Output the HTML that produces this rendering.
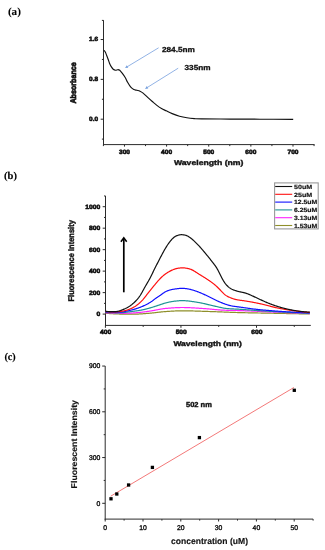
<!DOCTYPE html>
<html><head><meta charset="utf-8"><style>
html,body{margin:0;padding:0;background:#fff;width:325px;height:550px;overflow:hidden}
svg{display:block;will-change:transform;filter:blur(0.3px)}
text{text-rendering:geometricPrecision}
</style></head><body>
<svg width="325" height="550" viewBox="0 0 325 550">
<rect width="325" height="550" fill="#fff"/>
<text x="7.9" y="15.3" font-size="10.8" font-family='"Liberation Serif", serif' fill="#000" stroke="#000" stroke-width="0.08" font-weight="bold" textLength="13" lengthAdjust="spacingAndGlyphs">(a)</text>
<text x="4" y="178.8" font-size="10.3" font-family='"Liberation Serif", serif' fill="#000" stroke="#000" stroke-width="0.13" font-weight="bold" textLength="12.9" lengthAdjust="spacingAndGlyphs">(b)</text>
<text x="4.4" y="359.8" font-size="10.3" font-family='"Liberation Serif", serif' fill="#000" stroke="#000" stroke-width="0.13" font-weight="bold" textLength="11.4" lengthAdjust="spacingAndGlyphs">(c)</text>
<line x1="103.5" y1="20.2" x2="103.5" y2="145.1" stroke="#2a2a2a" stroke-width="1"/>
<line x1="103" y1="144.6" x2="314.55" y2="144.6" stroke="#2a2a2a" stroke-width="1"/>
<line x1="100.7" y1="119.2" x2="103.5" y2="119.2" stroke="#2a2a2a" stroke-width="1"/>
<text x="98.1" y="121.1" font-size="6.2" font-family='"Liberation Sans", sans-serif' fill="#111" stroke="#111" stroke-width="0.56" font-weight="bold" text-anchor="end" textLength="9" lengthAdjust="spacingAndGlyphs">0.0</text>
<line x1="100.7" y1="79.36" x2="103.5" y2="79.36" stroke="#2a2a2a" stroke-width="1"/>
<text x="98.1" y="81.26" font-size="6.2" font-family='"Liberation Sans", sans-serif' fill="#111" stroke="#111" stroke-width="0.56" font-weight="bold" text-anchor="end" textLength="9" lengthAdjust="spacingAndGlyphs">0.8</text>
<line x1="100.7" y1="39.52" x2="103.5" y2="39.52" stroke="#2a2a2a" stroke-width="1"/>
<text x="98.1" y="41.42" font-size="6.2" font-family='"Liberation Sans", sans-serif' fill="#111" stroke="#111" stroke-width="0.56" font-weight="bold" text-anchor="end" textLength="9" lengthAdjust="spacingAndGlyphs">1.6</text>
<line x1="101.9" y1="139.12" x2="103.5" y2="139.12" stroke="#2a2a2a" stroke-width="1"/>
<line x1="101.9" y1="99.28" x2="103.5" y2="99.28" stroke="#2a2a2a" stroke-width="1"/>
<line x1="101.9" y1="59.44" x2="103.5" y2="59.44" stroke="#2a2a2a" stroke-width="1"/>
<line x1="101.9" y1="20.4" x2="103.5" y2="20.4" stroke="#2a2a2a" stroke-width="1"/>
<line x1="124.47" y1="144.6" x2="124.47" y2="146.6" stroke="#2a2a2a" stroke-width="1"/>
<text x="124.47" y="153.5" font-size="6.2" font-family='"Liberation Sans", sans-serif' fill="#111" stroke="#111" stroke-width="0.56" font-weight="bold" text-anchor="middle" textLength="11" lengthAdjust="spacingAndGlyphs">300</text>
<line x1="166.59" y1="144.6" x2="166.59" y2="146.6" stroke="#2a2a2a" stroke-width="1"/>
<text x="166.59" y="153.5" font-size="6.2" font-family='"Liberation Sans", sans-serif' fill="#111" stroke="#111" stroke-width="0.56" font-weight="bold" text-anchor="middle" textLength="11" lengthAdjust="spacingAndGlyphs">400</text>
<line x1="208.73" y1="144.6" x2="208.73" y2="146.6" stroke="#2a2a2a" stroke-width="1"/>
<text x="208.73" y="153.5" font-size="6.2" font-family='"Liberation Sans", sans-serif' fill="#111" stroke="#111" stroke-width="0.56" font-weight="bold" text-anchor="middle" textLength="11" lengthAdjust="spacingAndGlyphs">500</text>
<line x1="250.86" y1="144.6" x2="250.86" y2="146.6" stroke="#2a2a2a" stroke-width="1"/>
<text x="250.86" y="153.5" font-size="6.2" font-family='"Liberation Sans", sans-serif' fill="#111" stroke="#111" stroke-width="0.56" font-weight="bold" text-anchor="middle" textLength="11" lengthAdjust="spacingAndGlyphs">600</text>
<line x1="292.99" y1="144.6" x2="292.99" y2="146.6" stroke="#2a2a2a" stroke-width="1"/>
<text x="292.99" y="153.5" font-size="6.2" font-family='"Liberation Sans", sans-serif' fill="#111" stroke="#111" stroke-width="0.56" font-weight="bold" text-anchor="middle" textLength="11" lengthAdjust="spacingAndGlyphs">700</text>
<line x1="103.4" y1="144.6" x2="103.4" y2="146.1" stroke="#2a2a2a" stroke-width="1"/>
<line x1="145.53" y1="144.6" x2="145.53" y2="146.1" stroke="#2a2a2a" stroke-width="1"/>
<line x1="187.66" y1="144.6" x2="187.66" y2="146.1" stroke="#2a2a2a" stroke-width="1"/>
<line x1="229.79" y1="144.6" x2="229.79" y2="146.1" stroke="#2a2a2a" stroke-width="1"/>
<line x1="271.92" y1="144.6" x2="271.92" y2="146.1" stroke="#2a2a2a" stroke-width="1"/>
<line x1="314.05" y1="144.6" x2="314.05" y2="146.1" stroke="#2a2a2a" stroke-width="1"/>
<text x="208.7" y="164.6" font-size="7" font-family='"Liberation Sans", sans-serif' fill="#111" stroke="#111" stroke-width="0.35" font-weight="bold" text-anchor="middle" textLength="69.6" lengthAdjust="spacingAndGlyphs">Wavelength (nm)</text>
<text x="76.5" y="82.9" font-size="8" font-family='"Liberation Sans", sans-serif' fill="#111" stroke="#111" stroke-width="0.67" font-weight="bold" text-anchor="middle" textLength="41.4" lengthAdjust="spacingAndGlyphs" transform="rotate(-90 76.5 82.9)">Absorbance</text>
<path d="M104,50.3 C104.23,50.62 104.93,51.28 105.4,52.2 C105.87,53.12 106.33,54.58 106.8,55.8 C107.27,57.02 107.75,58.27 108.2,59.5 C108.65,60.73 108.97,61.97 109.5,63.2 C110.03,64.43 110.78,65.9 111.4,66.9 C112.02,67.9 112.52,68.65 113.2,69.2 C113.88,69.75 114.73,70.12 115.5,70.2 C116.27,70.28 117.1,69.7 117.8,69.7 C118.5,69.7 119,69.67 119.7,70.2 C120.4,70.73 121.08,71.68 122,72.9 C122.92,74.12 124.27,75.93 125.2,77.5 C126.13,79.07 126.67,80.68 127.6,82.3 C128.53,83.92 129.77,86 130.8,87.2 C131.83,88.4 132.78,88.98 133.8,89.5 C134.82,90.02 135.87,90.02 136.9,90.3 C137.93,90.58 138.97,90.73 140,91.2 C141.03,91.67 141.82,92.07 143.1,93.1 C144.38,94.13 146.17,96 147.7,97.4 C149.23,98.8 150.77,100.17 152.3,101.5 C153.83,102.83 155.37,104.23 156.9,105.4 C158.43,106.57 159.95,107.6 161.5,108.5 C163.05,109.4 164.42,109.95 166.2,110.8 C167.98,111.65 169.98,112.7 172.2,113.6 C174.42,114.5 177.05,115.5 179.5,116.2 C181.95,116.9 184.43,117.4 186.9,117.8 C189.37,118.2 191.83,118.42 194.3,118.6 C196.77,118.78 195.75,118.82 201.7,118.9 C207.65,118.98 220.28,119.05 230,119.1 C239.72,119.15 249.47,119.17 260,119.2 C270.53,119.23 287.67,119.28 293.2,119.3" fill="none" stroke="#111" stroke-width="1.15" stroke-linejoin="round"/>
<line x1="158.6" y1="47.8" x2="127.14" y2="66.81" stroke="#76a0de" stroke-width="0.8"/>
<polygon points="125,68.1 126.84,65.35 128.29,67.75" fill="#76a0de"/>
<line x1="178.2" y1="68.2" x2="147.12" y2="87.58" stroke="#76a0de" stroke-width="0.8"/>
<polygon points="145,88.9 146.81,86.12 148.29,88.5" fill="#76a0de"/>
<text x="161.9" y="51.5" font-size="7.3" font-family='"Liberation Sans", sans-serif' fill="#111" stroke="#111" stroke-width="0.29" font-weight="bold" textLength="33" lengthAdjust="spacingAndGlyphs">284.5nm</text>
<text x="184.5" y="70.4" font-size="7.3" font-family='"Liberation Sans", sans-serif' fill="#111" stroke="#111" stroke-width="0.29" font-weight="bold" textLength="26" lengthAdjust="spacingAndGlyphs">335nm</text>
<line x1="105.5" y1="195.96" x2="105.5" y2="325.9" stroke="#2a2a2a" stroke-width="1"/>
<line x1="105" y1="325.4" x2="310.8" y2="325.4" stroke="#2a2a2a" stroke-width="1"/>
<line x1="102.7" y1="314.1" x2="105.5" y2="314.1" stroke="#2a2a2a" stroke-width="1"/>
<text x="100.3" y="316.1" font-size="6.2" font-family='"Liberation Sans", sans-serif' fill="#111" stroke="#111" stroke-width="0.56" font-weight="bold" text-anchor="end" textLength="3.75" lengthAdjust="spacingAndGlyphs">0</text>
<line x1="102.7" y1="292.62" x2="105.5" y2="292.62" stroke="#2a2a2a" stroke-width="1"/>
<text x="100.3" y="294.62" font-size="6.2" font-family='"Liberation Sans", sans-serif' fill="#111" stroke="#111" stroke-width="0.56" font-weight="bold" text-anchor="end" textLength="11.25" lengthAdjust="spacingAndGlyphs">200</text>
<line x1="102.7" y1="271.14" x2="105.5" y2="271.14" stroke="#2a2a2a" stroke-width="1"/>
<text x="100.3" y="273.14" font-size="6.2" font-family='"Liberation Sans", sans-serif' fill="#111" stroke="#111" stroke-width="0.56" font-weight="bold" text-anchor="end" textLength="11.25" lengthAdjust="spacingAndGlyphs">400</text>
<line x1="102.7" y1="249.66" x2="105.5" y2="249.66" stroke="#2a2a2a" stroke-width="1"/>
<text x="100.3" y="251.66" font-size="6.2" font-family='"Liberation Sans", sans-serif' fill="#111" stroke="#111" stroke-width="0.56" font-weight="bold" text-anchor="end" textLength="11.25" lengthAdjust="spacingAndGlyphs">600</text>
<line x1="102.7" y1="228.18" x2="105.5" y2="228.18" stroke="#2a2a2a" stroke-width="1"/>
<text x="100.3" y="230.18" font-size="6.2" font-family='"Liberation Sans", sans-serif' fill="#111" stroke="#111" stroke-width="0.56" font-weight="bold" text-anchor="end" textLength="11.25" lengthAdjust="spacingAndGlyphs">800</text>
<line x1="102.7" y1="206.7" x2="105.5" y2="206.7" stroke="#2a2a2a" stroke-width="1"/>
<text x="100.3" y="208.7" font-size="6.2" font-family='"Liberation Sans", sans-serif' fill="#111" stroke="#111" stroke-width="0.56" font-weight="bold" text-anchor="end" textLength="15" lengthAdjust="spacingAndGlyphs">1000</text>
<line x1="104" y1="303.36" x2="105.5" y2="303.36" stroke="#2a2a2a" stroke-width="1"/>
<line x1="104" y1="281.88" x2="105.5" y2="281.88" stroke="#2a2a2a" stroke-width="1"/>
<line x1="104" y1="260.4" x2="105.5" y2="260.4" stroke="#2a2a2a" stroke-width="1"/>
<line x1="104" y1="238.92" x2="105.5" y2="238.92" stroke="#2a2a2a" stroke-width="1"/>
<line x1="104" y1="217.44" x2="105.5" y2="217.44" stroke="#2a2a2a" stroke-width="1"/>
<line x1="104" y1="195.96" x2="105.5" y2="195.96" stroke="#2a2a2a" stroke-width="1"/>
<line x1="105.4" y1="325.4" x2="105.4" y2="327.8" stroke="#2a2a2a" stroke-width="1"/>
<text x="105.7" y="333.9" font-size="6.2" font-family='"Liberation Sans", sans-serif' fill="#111" stroke="#111" stroke-width="0.56" font-weight="bold" text-anchor="middle" textLength="11.2" lengthAdjust="spacingAndGlyphs">400</text>
<line x1="180.95" y1="325.4" x2="180.95" y2="327.8" stroke="#2a2a2a" stroke-width="1"/>
<text x="181.25" y="333.9" font-size="6.2" font-family='"Liberation Sans", sans-serif' fill="#111" stroke="#111" stroke-width="0.56" font-weight="bold" text-anchor="middle" textLength="11.2" lengthAdjust="spacingAndGlyphs">500</text>
<line x1="256.5" y1="325.4" x2="256.5" y2="327.8" stroke="#2a2a2a" stroke-width="1"/>
<text x="256.8" y="333.9" font-size="6.2" font-family='"Liberation Sans", sans-serif' fill="#111" stroke="#111" stroke-width="0.56" font-weight="bold" text-anchor="middle" textLength="11.2" lengthAdjust="spacingAndGlyphs">600</text>
<line x1="143.18" y1="325.4" x2="143.18" y2="326.9" stroke="#2a2a2a" stroke-width="1"/>
<line x1="218.72" y1="325.4" x2="218.72" y2="326.9" stroke="#2a2a2a" stroke-width="1"/>
<line x1="294.27" y1="325.4" x2="294.27" y2="326.9" stroke="#2a2a2a" stroke-width="1"/>
<text x="207.6" y="346" font-size="7" font-family='"Liberation Sans", sans-serif' fill="#111" stroke="#111" stroke-width="0.35" font-weight="bold" text-anchor="middle" textLength="68.4" lengthAdjust="spacingAndGlyphs">Wavelength (nm)</text>
<text x="73.7" y="260.8" font-size="8.3" font-family='"Liberation Sans", sans-serif' fill="#111" stroke="#111" stroke-width="0.4" font-weight="bold" text-anchor="middle" textLength="81.4" lengthAdjust="spacingAndGlyphs" transform="rotate(-90 73.7 260.8)">Fluorescence Intensity</text>
<path d="M105.5,313.25 L106,313.28 L106.5,313.31 L107,313.34 L107.5,313.38 L108,313.42 L108.5,313.45 L109,313.49 L109.5,313.53 L110,313.56 L110.5,313.6 L111,313.63 L111.5,313.66 L112,313.69 L112.5,313.72 L113,313.75 L113.5,313.78 L114,313.81 L114.5,313.83 L115,313.86 L115.5,313.88 L116,313.9 L116.5,313.92 L117,313.94 L117.5,313.96 L118,313.98 L118.5,314 L119,314.01 L119.5,314.03 L120,314.04 L120.5,314.06 L121,314.07 L121.5,314.08 L122,314.1 L122.5,314.11 L123,314.12 L123.5,314.13 L124,314.13 L124.5,314.14 L125,314.15 L125.5,314.16 L126,314.16 L126.5,314.17 L127,314.17 L127.5,314.18 L128,314.18 L128.5,314.19 L129,314.19 L129.5,314.19 L130,314.19 L130.5,314.19 L131,314.2 L131.5,314.2 L132,314.2 L132.5,314.19 L133,314.19 L133.5,314.19 L134,314.18 L134.5,314.17 L135,314.16 L135.5,314.15 L136,314.13 L136.5,314.12 L137,314.1 L137.5,314.08 L138,314.05 L138.5,314.03 L139,314 L139.5,313.97 L140,313.94 L140.5,313.91 L141,313.88 L141.5,313.85 L142,313.81 L142.5,313.78 L143,313.74 L143.5,313.71 L144,313.67 L144.5,313.63 L145,313.59 L145.5,313.55 L146,313.51 L146.5,313.47 L147,313.43 L147.5,313.4 L148,313.36 L148.5,313.32 L149,313.28 L149.5,313.24 L150,313.19 L150.5,313.15 L151,313.11 L151.5,313.06 L152,313.01 L152.5,312.96 L153,312.91 L153.5,312.86 L154,312.8 L154.5,312.74 L155,312.69 L155.5,312.63 L156,312.57 L156.5,312.5 L157,312.44 L157.5,312.38 L158,312.32 L158.5,312.26 L159,312.2 L159.5,312.14 L160,312.08 L160.5,312.03 L161,311.97 L161.5,311.92 L162,311.87 L162.5,311.82 L163,311.77 L163.5,311.73 L164,311.68 L164.5,311.65 L165,311.61 L165.5,311.57 L166,311.54 L166.5,311.5 L167,311.47 L167.5,311.44 L168,311.4 L168.5,311.37 L169,311.34 L169.5,311.31 L170,311.27 L170.5,311.24 L171,311.21 L171.5,311.18 L172,311.15 L172.5,311.12 L173,311.1 L173.5,311.07 L174,311.04 L174.5,311.02 L175,310.99 L175.5,310.97 L176,310.95 L176.5,310.93 L177,310.91 L177.5,310.89 L178,310.88 L178.5,310.86 L179,310.85 L179.5,310.84 L180,310.83 L180.5,310.82 L181,310.81 L181.5,310.81 L182,310.81 L182.5,310.81 L183,310.81 L183.5,310.81 L184,310.81 L184.5,310.81 L185,310.82 L185.5,310.82 L186,310.83 L186.5,310.83 L187,310.84 L187.5,310.85 L188,310.86 L188.5,310.87 L189,310.88 L189.5,310.89 L190,310.9 L190.5,310.91 L191,310.92 L191.5,310.93 L192,310.94 L192.5,310.96 L193,310.97 L193.5,310.98 L194,311 L194.5,311.01 L195,311.03 L195.5,311.04 L196,311.06 L196.5,311.08 L197,311.09 L197.5,311.11 L198,311.12 L198.5,311.14 L199,311.16 L199.5,311.18 L200,311.19 L200.5,311.21 L201,311.23 L201.5,311.24 L202,311.26 L202.5,311.28 L203,311.3 L203.5,311.31 L204,311.33 L204.5,311.35 L205,311.36 L205.5,311.38 L206,311.4 L206.5,311.41 L207,311.43 L207.5,311.45 L208,311.46 L208.5,311.48 L209,311.49 L209.5,311.51 L210,311.53 L210.5,311.54 L211,311.56 L211.5,311.57 L212,311.59 L212.5,311.61 L213,311.62 L213.5,311.64 L214,311.66 L214.5,311.68 L215,311.69 L215.5,311.71 L216,311.73 L216.5,311.75 L217,311.77 L217.5,311.79 L218,311.81 L218.5,311.83 L219,311.85 L219.5,311.87 L220,311.88 L220.5,311.9 L221,311.92 L221.5,311.94 L222,311.96 L222.5,311.98 L223,312 L223.5,312.02 L224,312.04 L224.5,312.06 L225,312.08 L225.5,312.1 L226,312.12 L226.5,312.14 L227,312.16 L227.5,312.18 L228,312.2 L228.5,312.22 L229,312.24 L229.5,312.26 L230,312.28 L230.5,312.29 L231,312.31 L231.5,312.33 L232,312.35 L232.5,312.37 L233,312.38 L233.5,312.4 L234,312.42 L234.5,312.44 L235,312.45 L235.5,312.47 L236,312.48 L236.5,312.5 L237,312.51 L237.5,312.53 L238,312.54 L238.5,312.56 L239,312.57 L239.5,312.59 L240,312.6 L240.5,312.61 L241,312.62 L241.5,312.64 L242,312.65 L242.5,312.66 L243,312.67 L243.5,312.68 L244,312.7 L244.5,312.71 L245,312.72 L245.5,312.73 L246,312.74 L246.5,312.75 L247,312.76 L247.5,312.77 L248,312.78 L248.5,312.79 L249,312.8 L249.5,312.81 L250,312.82 L250.5,312.83 L251,312.84 L251.5,312.85 L252,312.86 L252.5,312.87 L253,312.88 L253.5,312.89 L254,312.9 L254.5,312.91 L255,312.92 L255.5,312.93 L256,312.94 L256.5,312.95 L257,312.96 L257.5,312.97 L258,312.98 L258.5,312.98 L259,312.99 L259.5,313 L260,313.01 L260.5,313.02 L261,313.03 L261.5,313.04 L262,313.05 L262.5,313.06 L263,313.07 L263.5,313.08 L264,313.09 L264.5,313.09 L265,313.1 L265.5,313.11 L266,313.12 L266.5,313.13 L267,313.14 L267.5,313.15 L268,313.16 L268.5,313.17 L269,313.18 L269.5,313.19 L270,313.2 L270.5,313.21 L271,313.22 L271.5,313.23 L272,313.24 L272.5,313.25 L273,313.26 L273.5,313.27 L274,313.28 L274.5,313.29 L275,313.3 L275.5,313.31 L276,313.32 L276.5,313.33 L277,313.34 L277.5,313.35 L278,313.36 L278.5,313.37 L279,313.38 L279.5,313.39 L280,313.4 L280.5,313.41 L281,313.42 L281.5,313.43 L282,313.44 L282.5,313.45 L283,313.46 L283.5,313.47 L284,313.48 L284.5,313.49 L285,313.5 L285.5,313.51 L286,313.52 L286.5,313.53 L287,313.54 L287.5,313.55 L288,313.56 L288.5,313.57 L289,313.58 L289.5,313.59 L290,313.6 L290.5,313.61 L291,313.62 L291.5,313.63 L292,313.64 L292.5,313.65 L293,313.66 L293.5,313.67 L294,313.68 L294.5,313.69 L295,313.7 L295.5,313.71 L296,313.72 L296.5,313.73 L297,313.74 L297.5,313.75 L298,313.76 L298.5,313.77 L299,313.78 L299.5,313.79 L300,313.8 L300.5,313.81 L301,313.82 L301.5,313.83 L302,313.84 L302.5,313.85 L303,313.86 L303.5,313.87 L304,313.88 L304.5,313.89 L305,313.9 L305.5,313.91 L306,313.92 L306.5,313.93 L307,313.94 L307.5,313.95 L308,313.96 L308.5,313.97 L309,313.98 L309.5,313.98 L309.8,313.99" fill="none" stroke="#8f8f2a" stroke-width="1.2" stroke-linejoin="round"/>
<path d="M105.5,312.74 L106,312.77 L106.5,312.79 L107,312.82 L107.5,312.85 L108,312.88 L108.5,312.91 L109,312.94 L109.5,312.97 L110,312.99 L110.5,313.02 L111,313.04 L111.5,313.07 L112,313.09 L112.5,313.11 L113,313.13 L113.5,313.14 L114,313.16 L114.5,313.17 L115,313.19 L115.5,313.2 L116,313.21 L116.5,313.22 L117,313.23 L117.5,313.24 L118,313.25 L118.5,313.26 L119,313.27 L119.5,313.27 L120,313.28 L120.5,313.28 L121,313.29 L121.5,313.29 L122,313.29 L122.5,313.29 L123,313.3 L123.5,313.3 L124,313.3 L124.5,313.29 L125,313.29 L125.5,313.29 L126,313.28 L126.5,313.27 L127,313.26 L127.5,313.25 L128,313.24 L128.5,313.22 L129,313.2 L129.5,313.18 L130,313.15 L130.5,313.13 L131,313.1 L131.5,313.07 L132,313.04 L132.5,313 L133,312.97 L133.5,312.93 L134,312.89 L134.5,312.86 L135,312.82 L135.5,312.78 L136,312.74 L136.5,312.7 L137,312.65 L137.5,312.61 L138,312.57 L138.5,312.53 L139,312.48 L139.5,312.44 L140,312.39 L140.5,312.35 L141,312.3 L141.5,312.25 L142,312.19 L142.5,312.14 L143,312.08 L143.5,312.02 L144,311.95 L144.5,311.89 L145,311.82 L145.5,311.75 L146,311.68 L146.5,311.61 L147,311.53 L147.5,311.46 L148,311.39 L148.5,311.31 L149,311.23 L149.5,311.16 L150,311.08 L150.5,311 L151,310.92 L151.5,310.84 L152,310.76 L152.5,310.68 L153,310.59 L153.5,310.5 L154,310.41 L154.5,310.31 L155,310.21 L155.5,310.12 L156,310.02 L156.5,309.92 L157,309.82 L157.5,309.72 L158,309.62 L158.5,309.52 L159,309.42 L159.5,309.33 L160,309.24 L160.5,309.15 L161,309.06 L161.5,308.98 L162,308.9 L162.5,308.82 L163,308.75 L163.5,308.69 L164,308.62 L164.5,308.57 L165,308.51 L165.5,308.46 L166,308.42 L166.5,308.37 L167,308.33 L167.5,308.28 L168,308.24 L168.5,308.2 L169,308.16 L169.5,308.12 L170,308.08 L170.5,308.04 L171,308 L171.5,307.96 L172,307.92 L172.5,307.89 L173,307.85 L173.5,307.82 L174,307.79 L174.5,307.76 L175,307.73 L175.5,307.7 L176,307.68 L176.5,307.65 L177,307.63 L177.5,307.61 L178,307.59 L178.5,307.57 L179,307.56 L179.5,307.54 L180,307.53 L180.5,307.52 L181,307.52 L181.5,307.51 L182,307.51 L182.5,307.51 L183,307.51 L183.5,307.51 L184,307.52 L184.5,307.53 L185,307.54 L185.5,307.55 L186,307.56 L186.5,307.57 L187,307.59 L187.5,307.61 L188,307.62 L188.5,307.64 L189,307.66 L189.5,307.69 L190,307.71 L190.5,307.73 L191,307.76 L191.5,307.78 L192,307.81 L192.5,307.84 L193,307.87 L193.5,307.9 L194,307.93 L194.5,307.96 L195,307.99 L195.5,308.02 L196,308.05 L196.5,308.08 L197,308.12 L197.5,308.15 L198,308.18 L198.5,308.22 L199,308.25 L199.5,308.28 L200,308.32 L200.5,308.35 L201,308.38 L201.5,308.42 L202,308.45 L202.5,308.48 L203,308.52 L203.5,308.55 L204,308.58 L204.5,308.62 L205,308.65 L205.5,308.69 L206,308.72 L206.5,308.76 L207,308.8 L207.5,308.84 L208,308.88 L208.5,308.93 L209,308.97 L209.5,309.02 L210,309.06 L210.5,309.11 L211,309.16 L211.5,309.2 L212,309.25 L212.5,309.3 L213,309.35 L213.5,309.4 L214,309.44 L214.5,309.49 L215,309.54 L215.5,309.59 L216,309.63 L216.5,309.68 L217,309.72 L217.5,309.77 L218,309.81 L218.5,309.85 L219,309.89 L219.5,309.93 L220,309.97 L220.5,310 L221,310.03 L221.5,310.07 L222,310.09 L222.5,310.12 L223,310.15 L223.5,310.17 L224,310.19 L224.5,310.21 L225,310.23 L225.5,310.25 L226,310.26 L226.5,310.28 L227,310.29 L227.5,310.31 L228,310.32 L228.5,310.33 L229,310.35 L229.5,310.36 L230,310.37 L230.5,310.38 L231,310.39 L231.5,310.4 L232,310.41 L232.5,310.42 L233,310.43 L233.5,310.44 L234,310.45 L234.5,310.46 L235,310.48 L235.5,310.49 L236,310.5 L236.5,310.51 L237,310.52 L237.5,310.53 L238,310.55 L238.5,310.56 L239,310.57 L239.5,310.59 L240,310.6 L240.5,310.62 L241,310.63 L241.5,310.65 L242,310.67 L242.5,310.68 L243,310.7 L243.5,310.72 L244,310.74 L244.5,310.76 L245,310.78 L245.5,310.79 L246,310.81 L246.5,310.83 L247,310.85 L247.5,310.87 L248,310.89 L248.5,310.92 L249,310.94 L249.5,310.96 L250,310.98 L250.5,311 L251,311.02 L251.5,311.05 L252,311.07 L252.5,311.09 L253,311.11 L253.5,311.14 L254,311.16 L254.5,311.18 L255,311.2 L255.5,311.23 L256,311.25 L256.5,311.27 L257,311.3 L257.5,311.32 L258,311.35 L258.5,311.37 L259,311.39 L259.5,311.42 L260,311.44 L260.5,311.46 L261,311.49 L261.5,311.51 L262,311.53 L262.5,311.56 L263,311.58 L263.5,311.61 L264,311.63 L264.5,311.65 L265,311.68 L265.5,311.7 L266,311.72 L266.5,311.74 L267,311.77 L267.5,311.79 L268,311.81 L268.5,311.83 L269,311.86 L269.5,311.88 L270,311.9 L270.5,311.92 L271,311.94 L271.5,311.96 L272,311.99 L272.5,312.01 L273,312.03 L273.5,312.05 L274,312.07 L274.5,312.09 L275,312.11 L275.5,312.14 L276,312.16 L276.5,312.18 L277,312.2 L277.5,312.22 L278,312.24 L278.5,312.27 L279,312.29 L279.5,312.31 L280,312.33 L280.5,312.35 L281,312.37 L281.5,312.39 L282,312.42 L282.5,312.44 L283,312.46 L283.5,312.48 L284,312.5 L284.5,312.52 L285,312.54 L285.5,312.57 L286,312.59 L286.5,312.61 L287,312.63 L287.5,312.65 L288,312.67 L288.5,312.69 L289,312.71 L289.5,312.74 L290,312.76 L290.5,312.78 L291,312.8 L291.5,312.82 L292,312.84 L292.5,312.86 L293,312.89 L293.5,312.91 L294,312.93 L294.5,312.95 L295,312.97 L295.5,312.99 L296,313.01 L296.5,313.03 L297,313.06 L297.5,313.08 L298,313.1 L298.5,313.12 L299,313.14 L299.5,313.16 L300,313.18 L300.5,313.21 L301,313.23 L301.5,313.25 L302,313.27 L302.5,313.29 L303,313.31 L303.5,313.33 L304,313.35 L304.5,313.38 L305,313.4 L305.5,313.42 L306,313.44 L306.5,313.46 L307,313.48 L307.5,313.5 L308,313.52 L308.5,313.54 L309,313.55 L309.5,313.57 L309.8,313.58" fill="none" stroke="#ff22ff" stroke-width="1.2" stroke-linejoin="round"/>
<path d="M105.5,312.44 L106,312.46 L106.5,312.49 L107,312.51 L107.5,312.54 L108,312.57 L108.5,312.59 L109,312.62 L109.5,312.64 L110,312.66 L110.5,312.68 L111,312.7 L111.5,312.71 L112,312.73 L112.5,312.74 L113,312.75 L113.5,312.76 L114,312.77 L114.5,312.77 L115,312.78 L115.5,312.78 L116,312.79 L116.5,312.79 L117,312.79 L117.5,312.8 L118,312.8 L118.5,312.8 L119,312.79 L119.5,312.79 L120,312.78 L120.5,312.77 L121,312.75 L121.5,312.73 L122,312.7 L122.5,312.67 L123,312.63 L123.5,312.58 L124,312.53 L124.5,312.48 L125,312.42 L125.5,312.36 L126,312.29 L126.5,312.23 L127,312.16 L127.5,312.09 L128,312.02 L128.5,311.95 L129,311.88 L129.5,311.81 L130,311.74 L130.5,311.67 L131,311.61 L131.5,311.54 L132,311.47 L132.5,311.41 L133,311.35 L133.5,311.28 L134,311.21 L134.5,311.15 L135,311.08 L135.5,311.01 L136,310.94 L136.5,310.87 L137,310.8 L137.5,310.73 L138,310.65 L138.5,310.57 L139,310.49 L139.5,310.41 L140,310.33 L140.5,310.24 L141,310.15 L141.5,310.06 L142,309.96 L142.5,309.86 L143,309.76 L143.5,309.65 L144,309.54 L144.5,309.42 L145,309.3 L145.5,309.18 L146,309.05 L146.5,308.92 L147,308.78 L147.5,308.65 L148,308.51 L148.5,308.37 L149,308.23 L149.5,308.09 L150,307.94 L150.5,307.8 L151,307.65 L151.5,307.5 L152,307.35 L152.5,307.2 L153,307.05 L153.5,306.89 L154,306.73 L154.5,306.57 L155,306.4 L155.5,306.24 L156,306.07 L156.5,305.91 L157,305.74 L157.5,305.57 L158,305.4 L158.5,305.23 L159,305.07 L159.5,304.9 L160,304.73 L160.5,304.56 L161,304.4 L161.5,304.23 L162,304.06 L162.5,303.9 L163,303.73 L163.5,303.57 L164,303.42 L164.5,303.27 L165,303.12 L165.5,302.98 L166,302.85 L166.5,302.72 L167,302.59 L167.5,302.47 L168,302.35 L168.5,302.23 L169,302.12 L169.5,302.01 L170,301.91 L170.5,301.82 L171,301.73 L171.5,301.64 L172,301.56 L172.5,301.49 L173,301.42 L173.5,301.35 L174,301.28 L174.5,301.22 L175,301.16 L175.5,301.1 L176,301.04 L176.5,300.98 L177,300.93 L177.5,300.88 L178,300.83 L178.5,300.79 L179,300.75 L179.5,300.72 L180,300.69 L180.5,300.66 L181,300.65 L181.5,300.63 L182,300.63 L182.5,300.63 L183,300.63 L183.5,300.65 L184,300.66 L184.5,300.68 L185,300.71 L185.5,300.74 L186,300.78 L186.5,300.82 L187,300.87 L187.5,300.91 L188,300.97 L188.5,301.02 L189,301.08 L189.5,301.14 L190,301.2 L190.5,301.27 L191,301.34 L191.5,301.41 L192,301.48 L192.5,301.55 L193,301.62 L193.5,301.7 L194,301.77 L194.5,301.84 L195,301.92 L195.5,301.99 L196,302.07 L196.5,302.15 L197,302.22 L197.5,302.3 L198,302.38 L198.5,302.47 L199,302.56 L199.5,302.65 L200,302.74 L200.5,302.84 L201,302.94 L201.5,303.04 L202,303.15 L202.5,303.26 L203,303.37 L203.5,303.48 L204,303.6 L204.5,303.71 L205,303.83 L205.5,303.95 L206,304.07 L206.5,304.19 L207,304.31 L207.5,304.43 L208,304.55 L208.5,304.67 L209,304.8 L209.5,304.92 L210,305.04 L210.5,305.16 L211,305.27 L211.5,305.39 L212,305.51 L212.5,305.62 L213,305.73 L213.5,305.85 L214,305.96 L214.5,306.07 L215,306.18 L215.5,306.29 L216,306.41 L216.5,306.52 L217,306.64 L217.5,306.76 L218,306.88 L218.5,306.99 L219,307.11 L219.5,307.23 L220,307.34 L220.5,307.45 L221,307.56 L221.5,307.67 L222,307.78 L222.5,307.87 L223,307.97 L223.5,308.06 L224,308.14 L224.5,308.22 L225,308.29 L225.5,308.36 L226,308.42 L226.5,308.48 L227,308.53 L227.5,308.57 L228,308.62 L228.5,308.66 L229,308.69 L229.5,308.73 L230,308.76 L230.5,308.79 L231,308.82 L231.5,308.85 L232,308.88 L232.5,308.91 L233,308.93 L233.5,308.96 L234,308.99 L234.5,309.01 L235,309.04 L235.5,309.06 L236,309.08 L236.5,309.11 L237,309.14 L237.5,309.16 L238,309.19 L238.5,309.22 L239,309.24 L239.5,309.27 L240,309.3 L240.5,309.33 L241,309.37 L241.5,309.4 L242,309.43 L242.5,309.46 L243,309.5 L243.5,309.53 L244,309.56 L244.5,309.6 L245,309.63 L245.5,309.67 L246,309.7 L246.5,309.74 L247,309.77 L247.5,309.81 L248,309.84 L248.5,309.88 L249,309.91 L249.5,309.95 L250,309.99 L250.5,310.02 L251,310.06 L251.5,310.09 L252,310.13 L252.5,310.17 L253,310.2 L253.5,310.24 L254,310.28 L254.5,310.31 L255,310.35 L255.5,310.38 L256,310.42 L256.5,310.46 L257,310.49 L257.5,310.53 L258,310.56 L258.5,310.6 L259,310.63 L259.5,310.67 L260,310.7 L260.5,310.74 L261,310.77 L261.5,310.81 L262,310.84 L262.5,310.88 L263,310.91 L263.5,310.94 L264,310.98 L264.5,311.01 L265,311.04 L265.5,311.07 L266,311.1 L266.5,311.14 L267,311.17 L267.5,311.2 L268,311.23 L268.5,311.26 L269,311.29 L269.5,311.32 L270,311.35 L270.5,311.37 L271,311.4 L271.5,311.43 L272,311.46 L272.5,311.49 L273,311.52 L273.5,311.55 L274,311.57 L274.5,311.6 L275,311.63 L275.5,311.66 L276,311.69 L276.5,311.71 L277,311.74 L277.5,311.77 L278,311.8 L278.5,311.82 L279,311.85 L279.5,311.88 L280,311.9 L280.5,311.93 L281,311.96 L281.5,311.99 L282,312.01 L282.5,312.04 L283,312.07 L283.5,312.09 L284,312.12 L284.5,312.14 L285,312.17 L285.5,312.2 L286,312.22 L286.5,312.25 L287,312.27 L287.5,312.3 L288,312.32 L288.5,312.35 L289,312.37 L289.5,312.4 L290,312.42 L290.5,312.45 L291,312.47 L291.5,312.5 L292,312.52 L292.5,312.55 L293,312.57 L293.5,312.6 L294,312.62 L294.5,312.64 L295,312.67 L295.5,312.69 L296,312.71 L296.5,312.74 L297,312.76 L297.5,312.78 L298,312.81 L298.5,312.83 L299,312.85 L299.5,312.87 L300,312.9 L300.5,312.92 L301,312.94 L301.5,312.96 L302,312.98 L302.5,313 L303,313.03 L303.5,313.05 L304,313.07 L304.5,313.09 L305,313.11 L305.5,313.13 L306,313.15 L306.5,313.17 L307,313.19 L307.5,313.21 L308,313.23 L308.5,313.24 L309,313.26 L309.5,313.27 L309.8,313.28" fill="none" stroke="#1f9494" stroke-width="1.2" stroke-linejoin="round"/>
<path d="M105.5,312.04 L106,312.05 L106.5,312.07 L107,312.09 L107.5,312.12 L108,312.14 L108.5,312.16 L109,312.18 L109.5,312.2 L110,312.21 L110.5,312.23 L111,312.24 L111.5,312.25 L112,312.26 L112.5,312.27 L113,312.28 L113.5,312.28 L114,312.29 L114.5,312.29 L115,312.29 L115.5,312.29 L116,312.3 L116.5,312.29 L117,312.29 L117.5,312.29 L118,312.28 L118.5,312.27 L119,312.25 L119.5,312.22 L120,312.19 L120.5,312.15 L121,312.1 L121.5,312.05 L122,311.99 L122.5,311.92 L123,311.84 L123.5,311.76 L124,311.68 L124.5,311.58 L125,311.49 L125.5,311.39 L126,311.28 L126.5,311.18 L127,311.07 L127.5,310.95 L128,310.84 L128.5,310.72 L129,310.6 L129.5,310.48 L130,310.36 L130.5,310.23 L131,310.11 L131.5,309.99 L132,309.86 L132.5,309.74 L133,309.61 L133.5,309.48 L134,309.34 L134.5,309.2 L135,309.06 L135.5,308.91 L136,308.75 L136.5,308.59 L137,308.43 L137.5,308.26 L138,308.08 L138.5,307.9 L139,307.72 L139.5,307.53 L140,307.34 L140.5,307.15 L141,306.95 L141.5,306.75 L142,306.54 L142.5,306.33 L143,306.12 L143.5,305.9 L144,305.67 L144.5,305.44 L145,305.2 L145.5,304.96 L146,304.71 L146.5,304.46 L147,304.2 L147.5,303.93 L148,303.66 L148.5,303.38 L149,303.1 L149.5,302.8 L150,302.5 L150.5,302.19 L151,301.86 L151.5,301.52 L152,301.17 L152.5,300.8 L153,300.43 L153.5,300.04 L154,299.65 L154.5,299.26 L155,298.88 L155.5,298.51 L156,298.15 L156.5,297.8 L157,297.46 L157.5,297.13 L158,296.81 L158.5,296.49 L159,296.17 L159.5,295.84 L160,295.5 L160.5,295.15 L161,294.79 L161.5,294.42 L162,294.05 L162.5,293.69 L163,293.34 L163.5,292.99 L164,292.67 L164.5,292.36 L165,292.06 L165.5,291.78 L166,291.52 L166.5,291.27 L167,291.04 L167.5,290.82 L168,290.62 L168.5,290.44 L169,290.27 L169.5,290.12 L170,289.98 L170.5,289.85 L171,289.73 L171.5,289.62 L172,289.51 L172.5,289.42 L173,289.33 L173.5,289.24 L174,289.16 L174.5,289.08 L175,289.01 L175.5,288.94 L176,288.87 L176.5,288.8 L177,288.74 L177.5,288.68 L178,288.62 L178.5,288.56 L179,288.51 L179.5,288.47 L180,288.43 L180.5,288.39 L181,288.37 L181.5,288.35 L182,288.35 L182.5,288.35 L183,288.37 L183.5,288.39 L184,288.42 L184.5,288.46 L185,288.51 L185.5,288.57 L186,288.63 L186.5,288.7 L187,288.77 L187.5,288.85 L188,288.93 L188.5,289.02 L189,289.11 L189.5,289.22 L190,289.33 L190.5,289.45 L191,289.58 L191.5,289.71 L192,289.85 L192.5,290 L193,290.15 L193.5,290.3 L194,290.46 L194.5,290.62 L195,290.78 L195.5,290.95 L196,291.12 L196.5,291.3 L197,291.48 L197.5,291.67 L198,291.86 L198.5,292.05 L199,292.25 L199.5,292.45 L200,292.66 L200.5,292.86 L201,293.07 L201.5,293.28 L202,293.5 L202.5,293.71 L203,293.93 L203.5,294.15 L204,294.37 L204.5,294.6 L205,294.83 L205.5,295.06 L206,295.29 L206.5,295.53 L207,295.76 L207.5,296 L208,296.24 L208.5,296.47 L209,296.71 L209.5,296.95 L210,297.19 L210.5,297.44 L211,297.68 L211.5,297.93 L212,298.18 L212.5,298.43 L213,298.68 L213.5,298.94 L214,299.19 L214.5,299.44 L215,299.7 L215.5,299.95 L216,300.2 L216.5,300.44 L217,300.69 L217.5,300.93 L218,301.17 L218.5,301.4 L219,301.62 L219.5,301.85 L220,302.06 L220.5,302.27 L221,302.48 L221.5,302.68 L222,302.88 L222.5,303.08 L223,303.27 L223.5,303.46 L224,303.64 L224.5,303.83 L225,304.01 L225.5,304.19 L226,304.36 L226.5,304.53 L227,304.7 L227.5,304.86 L228,305.01 L228.5,305.16 L229,305.3 L229.5,305.43 L230,305.56 L230.5,305.67 L231,305.78 L231.5,305.89 L232,305.98 L232.5,306.07 L233,306.16 L233.5,306.24 L234,306.32 L234.5,306.39 L235,306.46 L235.5,306.53 L236,306.59 L236.5,306.66 L237,306.72 L237.5,306.78 L238,306.85 L238.5,306.91 L239,306.97 L239.5,307.04 L240,307.11 L240.5,307.17 L241,307.24 L241.5,307.31 L242,307.38 L242.5,307.45 L243,307.53 L243.5,307.6 L244,307.67 L244.5,307.74 L245,307.82 L245.5,307.89 L246,307.96 L246.5,308.03 L247,308.11 L247.5,308.18 L248,308.25 L248.5,308.32 L249,308.39 L249.5,308.46 L250,308.53 L250.5,308.6 L251,308.66 L251.5,308.73 L252,308.8 L252.5,308.86 L253,308.92 L253.5,308.98 L254,309.04 L254.5,309.1 L255,309.16 L255.5,309.22 L256,309.27 L256.5,309.33 L257,309.38 L257.5,309.43 L258,309.49 L258.5,309.54 L259,309.59 L259.5,309.64 L260,309.69 L260.5,309.74 L261,309.79 L261.5,309.84 L262,309.88 L262.5,309.93 L263,309.98 L263.5,310.03 L264,310.07 L264.5,310.12 L265,310.16 L265.5,310.21 L266,310.25 L266.5,310.3 L267,310.34 L267.5,310.39 L268,310.43 L268.5,310.47 L269,310.52 L269.5,310.56 L270,310.6 L270.5,310.64 L271,310.68 L271.5,310.72 L272,310.76 L272.5,310.8 L273,310.84 L273.5,310.88 L274,310.92 L274.5,310.96 L275,310.99 L275.5,311.03 L276,311.07 L276.5,311.1 L277,311.14 L277.5,311.18 L278,311.21 L278.5,311.25 L279,311.28 L279.5,311.31 L280,311.35 L280.5,311.38 L281,311.41 L281.5,311.45 L282,311.48 L282.5,311.51 L283,311.54 L283.5,311.58 L284,311.61 L284.5,311.64 L285,311.67 L285.5,311.7 L286,311.73 L286.5,311.76 L287,311.79 L287.5,311.82 L288,311.85 L288.5,311.88 L289,311.91 L289.5,311.94 L290,311.97 L290.5,312 L291,312.03 L291.5,312.05 L292,312.08 L292.5,312.11 L293,312.14 L293.5,312.17 L294,312.19 L294.5,312.22 L295,312.25 L295.5,312.27 L296,312.3 L296.5,312.32 L297,312.35 L297.5,312.38 L298,312.4 L298.5,312.43 L299,312.45 L299.5,312.47 L300,312.5 L300.5,312.52 L301,312.54 L301.5,312.57 L302,312.59 L302.5,312.61 L303,312.63 L303.5,312.66 L304,312.68 L304.5,312.7 L305,312.72 L305.5,312.74 L306,312.76 L306.5,312.78 L307,312.8 L307.5,312.82 L308,312.83 L308.5,312.85 L309,312.86 L309.5,312.87 L309.8,312.88" fill="none" stroke="#1010ff" stroke-width="1.2" stroke-linejoin="round"/>
<path d="M105.5,311.64 L106,311.66 L106.5,311.68 L107,311.71 L107.5,311.73 L108,311.76 L108.5,311.78 L109,311.8 L109.5,311.82 L110,311.83 L110.5,311.85 L111,311.86 L111.5,311.87 L112,311.88 L112.5,311.88 L113,311.89 L113.5,311.89 L114,311.89 L114.5,311.89 L115,311.89 L115.5,311.88 L116,311.87 L116.5,311.86 L117,311.84 L117.5,311.81 L118,311.77 L118.5,311.73 L119,311.68 L119.5,311.62 L120,311.56 L120.5,311.49 L121,311.41 L121.5,311.33 L122,311.25 L122.5,311.16 L123,311.07 L123.5,310.97 L124,310.87 L124.5,310.76 L125,310.64 L125.5,310.51 L126,310.38 L126.5,310.23 L127,310.08 L127.5,309.92 L128,309.74 L128.5,309.56 L129,309.38 L129.5,309.18 L130,308.98 L130.5,308.77 L131,308.55 L131.5,308.33 L132,308.09 L132.5,307.85 L133,307.6 L133.5,307.33 L134,307.05 L134.5,306.76 L135,306.46 L135.5,306.13 L136,305.8 L136.5,305.45 L137,305.08 L137.5,304.7 L138,304.31 L138.5,303.91 L139,303.49 L139.5,303.06 L140,302.62 L140.5,302.16 L141,301.68 L141.5,301.18 L142,300.66 L142.5,300.12 L143,299.55 L143.5,298.96 L144,298.35 L144.5,297.72 L145,297.09 L145.5,296.44 L146,295.8 L146.5,295.14 L147,294.49 L147.5,293.84 L148,293.19 L148.5,292.54 L149,291.9 L149.5,291.26 L150,290.63 L150.5,290.01 L151,289.39 L151.5,288.77 L152,288.16 L152.5,287.55 L153,286.94 L153.5,286.34 L154,285.73 L154.5,285.12 L155,284.52 L155.5,283.91 L156,283.31 L156.5,282.71 L157,282.11 L157.5,281.53 L158,280.95 L158.5,280.39 L159,279.84 L159.5,279.3 L160,278.77 L160.5,278.26 L161,277.76 L161.5,277.27 L162,276.8 L162.5,276.34 L163,275.9 L163.5,275.48 L164,275.07 L164.5,274.68 L165,274.3 L165.5,273.94 L166,273.59 L166.5,273.25 L167,272.92 L167.5,272.6 L168,272.3 L168.5,272 L169,271.7 L169.5,271.42 L170,271.15 L170.5,270.88 L171,270.63 L171.5,270.38 L172,270.15 L172.5,269.93 L173,269.72 L173.5,269.52 L174,269.33 L174.5,269.15 L175,268.98 L175.5,268.83 L176,268.69 L176.5,268.57 L177,268.46 L177.5,268.36 L178,268.27 L178.5,268.19 L179,268.12 L179.5,268.06 L180,268 L180.5,267.96 L181,267.92 L181.5,267.89 L182,267.87 L182.5,267.86 L183,267.86 L183.5,267.88 L184,267.91 L184.5,267.95 L185,268 L185.5,268.07 L186,268.14 L186.5,268.23 L187,268.32 L187.5,268.43 L188,268.54 L188.5,268.66 L189,268.78 L189.5,268.92 L190,269.07 L190.5,269.24 L191,269.42 L191.5,269.62 L192,269.85 L192.5,270.09 L193,270.35 L193.5,270.63 L194,270.92 L194.5,271.23 L195,271.55 L195.5,271.87 L196,272.2 L196.5,272.53 L197,272.86 L197.5,273.19 L198,273.51 L198.5,273.83 L199,274.15 L199.5,274.46 L200,274.77 L200.5,275.08 L201,275.38 L201.5,275.69 L202,275.99 L202.5,276.3 L203,276.6 L203.5,276.91 L204,277.22 L204.5,277.53 L205,277.85 L205.5,278.17 L206,278.49 L206.5,278.81 L207,279.14 L207.5,279.47 L208,279.8 L208.5,280.14 L209,280.48 L209.5,280.82 L210,281.17 L210.5,281.53 L211,281.88 L211.5,282.25 L212,282.61 L212.5,282.99 L213,283.37 L213.5,283.76 L214,284.15 L214.5,284.56 L215,284.97 L215.5,285.4 L216,285.84 L216.5,286.29 L217,286.76 L217.5,287.24 L218,287.73 L218.5,288.23 L219,288.73 L219.5,289.24 L220,289.76 L220.5,290.28 L221,290.81 L221.5,291.34 L222,291.86 L222.5,292.39 L223,292.9 L223.5,293.4 L224,293.88 L224.5,294.32 L225,294.74 L225.5,295.12 L226,295.47 L226.5,295.79 L227,296.08 L227.5,296.36 L228,296.62 L228.5,296.86 L229,297.09 L229.5,297.32 L230,297.53 L230.5,297.74 L231,297.94 L231.5,298.14 L232,298.33 L232.5,298.51 L233,298.69 L233.5,298.86 L234,299.02 L234.5,299.17 L235,299.31 L235.5,299.43 L236,299.55 L236.5,299.66 L237,299.76 L237.5,299.85 L238,299.94 L238.5,300.02 L239,300.1 L239.5,300.17 L240,300.24 L240.5,300.31 L241,300.37 L241.5,300.43 L242,300.5 L242.5,300.56 L243,300.63 L243.5,300.69 L244,300.76 L244.5,300.83 L245,300.91 L245.5,300.98 L246,301.06 L246.5,301.14 L247,301.22 L247.5,301.3 L248,301.39 L248.5,301.48 L249,301.56 L249.5,301.65 L250,301.74 L250.5,301.83 L251,301.92 L251.5,302.01 L252,302.11 L252.5,302.2 L253,302.29 L253.5,302.39 L254,302.49 L254.5,302.58 L255,302.68 L255.5,302.78 L256,302.88 L256.5,302.98 L257,303.08 L257.5,303.18 L258,303.29 L258.5,303.39 L259,303.49 L259.5,303.6 L260,303.7 L260.5,303.81 L261,303.92 L261.5,304.03 L262,304.14 L262.5,304.26 L263,304.37 L263.5,304.49 L264,304.61 L264.5,304.74 L265,304.86 L265.5,304.99 L266,305.12 L266.5,305.25 L267,305.38 L267.5,305.51 L268,305.64 L268.5,305.77 L269,305.91 L269.5,306.04 L270,306.17 L270.5,306.3 L271,306.44 L271.5,306.57 L272,306.7 L272.5,306.82 L273,306.95 L273.5,307.07 L274,307.19 L274.5,307.31 L275,307.43 L275.5,307.54 L276,307.65 L276.5,307.76 L277,307.87 L277.5,307.97 L278,308.08 L278.5,308.18 L279,308.28 L279.5,308.37 L280,308.47 L280.5,308.57 L281,308.66 L281.5,308.76 L282,308.85 L282.5,308.94 L283,309.03 L283.5,309.12 L284,309.21 L284.5,309.3 L285,309.39 L285.5,309.47 L286,309.56 L286.5,309.64 L287,309.72 L287.5,309.8 L288,309.88 L288.5,309.96 L289,310.04 L289.5,310.12 L290,310.19 L290.5,310.27 L291,310.34 L291.5,310.41 L292,310.48 L292.5,310.55 L293,310.62 L293.5,310.69 L294,310.76 L294.5,310.83 L295,310.89 L295.5,310.96 L296,311.02 L296.5,311.08 L297,311.15 L297.5,311.21 L298,311.27 L298.5,311.33 L299,311.39 L299.5,311.45 L300,311.51 L300.5,311.57 L301,311.63 L301.5,311.69 L302,311.74 L302.5,311.8 L303,311.85 L303.5,311.91 L304,311.96 L304.5,312.01 L305,312.06 L305.5,312.11 L306,312.16 L306.5,312.21 L307,312.25 L307.5,312.3 L308,312.34 L308.5,312.37 L309,312.41 L309.5,312.44 L309.8,312.46" fill="none" stroke="#ff1010" stroke-width="1.2" stroke-linejoin="round"/>
<path d="M105.5,311.43 L106,311.44 L106.5,311.46 L107,311.47 L107.5,311.49 L108,311.5 L108.5,311.52 L109,311.53 L109.5,311.54 L110,311.56 L110.5,311.56 L111,311.57 L111.5,311.58 L112,311.58 L112.5,311.59 L113,311.59 L113.5,311.59 L114,311.59 L114.5,311.59 L115,311.58 L115.5,311.56 L116,311.54 L116.5,311.5 L117,311.44 L117.5,311.37 L118,311.28 L118.5,311.17 L119,311.04 L119.5,310.89 L120,310.73 L120.5,310.56 L121,310.37 L121.5,310.18 L122,309.99 L122.5,309.79 L123,309.59 L123.5,309.38 L124,309.17 L124.5,308.95 L125,308.72 L125.5,308.49 L126,308.24 L126.5,307.99 L127,307.72 L127.5,307.44 L128,307.15 L128.5,306.86 L129,306.55 L129.5,306.22 L130,305.89 L130.5,305.54 L131,305.17 L131.5,304.8 L132,304.41 L132.5,304 L133,303.58 L133.5,303.14 L134,302.69 L134.5,302.23 L135,301.75 L135.5,301.25 L136,300.73 L136.5,300.2 L137,299.64 L137.5,299.06 L138,298.46 L138.5,297.83 L139,297.17 L139.5,296.47 L140,295.74 L140.5,294.97 L141,294.16 L141.5,293.31 L142,292.43 L142.5,291.52 L143,290.59 L143.5,289.66 L144,288.74 L144.5,287.82 L145,286.93 L145.5,286.05 L146,285.18 L146.5,284.33 L147,283.49 L147.5,282.65 L148,281.79 L148.5,280.93 L149,280.04 L149.5,279.13 L150,278.19 L150.5,277.22 L151,276.23 L151.5,275.22 L152,274.2 L152.5,273.16 L153,272.13 L153.5,271.1 L154,270.07 L154.5,269.06 L155,268.05 L155.5,267.06 L156,266.07 L156.5,265.09 L157,264.11 L157.5,263.14 L158,262.16 L158.5,261.19 L159,260.22 L159.5,259.25 L160,258.28 L160.5,257.31 L161,256.36 L161.5,255.41 L162,254.47 L162.5,253.53 L163,252.61 L163.5,251.7 L164,250.8 L164.5,249.92 L165,249.05 L165.5,248.2 L166,247.38 L166.5,246.57 L167,245.78 L167.5,245.02 L168,244.27 L168.5,243.55 L169,242.85 L169.5,242.17 L170,241.52 L170.5,240.9 L171,240.3 L171.5,239.73 L172,239.19 L172.5,238.68 L173,238.2 L173.5,237.75 L174,237.33 L174.5,236.96 L175,236.62 L175.5,236.33 L176,236.07 L176.5,235.84 L177,235.63 L177.5,235.45 L178,235.29 L178.5,235.14 L179,235.02 L179.5,234.91 L180,234.83 L180.5,234.77 L181,234.72 L181.5,234.71 L182,234.71 L182.5,234.73 L183,234.78 L183.5,234.84 L184,234.92 L184.5,235.02 L185,235.13 L185.5,235.27 L186,235.42 L186.5,235.6 L187,235.81 L187.5,236.04 L188,236.3 L188.5,236.59 L189,236.89 L189.5,237.22 L190,237.56 L190.5,237.92 L191,238.3 L191.5,238.69 L192,239.09 L192.5,239.52 L193,239.95 L193.5,240.4 L194,240.87 L194.5,241.34 L195,241.82 L195.5,242.31 L196,242.81 L196.5,243.31 L197,243.82 L197.5,244.33 L198,244.85 L198.5,245.38 L199,245.92 L199.5,246.46 L200,247.02 L200.5,247.58 L201,248.15 L201.5,248.72 L202,249.3 L202.5,249.88 L203,250.47 L203.5,251.06 L204,251.65 L204.5,252.25 L205,252.85 L205.5,253.45 L206,254.05 L206.5,254.65 L207,255.26 L207.5,255.87 L208,256.48 L208.5,257.1 L209,257.73 L209.5,258.35 L210,258.98 L210.5,259.62 L211,260.26 L211.5,260.9 L212,261.54 L212.5,262.18 L213,262.83 L213.5,263.48 L214,264.14 L214.5,264.8 L215,265.48 L215.5,266.19 L216,266.92 L216.5,267.68 L217,268.49 L217.5,269.35 L218,270.26 L218.5,271.21 L219,272.21 L219.5,273.23 L220,274.26 L220.5,275.29 L221,276.3 L221.5,277.29 L222,278.24 L222.5,279.15 L223,280.02 L223.5,280.86 L224,281.65 L224.5,282.4 L225,283.12 L225.5,283.78 L226,284.41 L226.5,284.99 L227,285.54 L227.5,286.05 L228,286.52 L228.5,286.96 L229,287.37 L229.5,287.75 L230,288.1 L230.5,288.42 L231,288.71 L231.5,288.99 L232,289.24 L232.5,289.47 L233,289.69 L233.5,289.9 L234,290.09 L234.5,290.28 L235,290.46 L235.5,290.63 L236,290.79 L236.5,290.94 L237,291.09 L237.5,291.23 L238,291.37 L238.5,291.5 L239,291.62 L239.5,291.73 L240,291.84 L240.5,291.95 L241,292.05 L241.5,292.15 L242,292.25 L242.5,292.35 L243,292.46 L243.5,292.57 L244,292.68 L244.5,292.81 L245,292.94 L245.5,293.08 L246,293.24 L246.5,293.4 L247,293.57 L247.5,293.76 L248,293.95 L248.5,294.16 L249,294.37 L249.5,294.58 L250,294.8 L250.5,295.03 L251,295.26 L251.5,295.48 L252,295.71 L252.5,295.94 L253,296.17 L253.5,296.4 L254,296.63 L254.5,296.86 L255,297.09 L255.5,297.32 L256,297.56 L256.5,297.79 L257,298.03 L257.5,298.27 L258,298.5 L258.5,298.74 L259,298.98 L259.5,299.21 L260,299.45 L260.5,299.68 L261,299.91 L261.5,300.14 L262,300.37 L262.5,300.6 L263,300.82 L263.5,301.05 L264,301.28 L264.5,301.5 L265,301.72 L265.5,301.94 L266,302.16 L266.5,302.38 L267,302.59 L267.5,302.8 L268,303 L268.5,303.21 L269,303.41 L269.5,303.6 L270,303.8 L270.5,303.99 L271,304.18 L271.5,304.36 L272,304.55 L272.5,304.73 L273,304.91 L273.5,305.09 L274,305.26 L274.5,305.43 L275,305.61 L275.5,305.77 L276,305.94 L276.5,306.1 L277,306.26 L277.5,306.42 L278,306.58 L278.5,306.73 L279,306.88 L279.5,307.03 L280,307.18 L280.5,307.32 L281,307.46 L281.5,307.6 L282,307.74 L282.5,307.88 L283,308.01 L283.5,308.15 L284,308.28 L284.5,308.41 L285,308.54 L285.5,308.66 L286,308.78 L286.5,308.9 L287,309.02 L287.5,309.13 L288,309.25 L288.5,309.36 L289,309.46 L289.5,309.57 L290,309.67 L290.5,309.77 L291,309.87 L291.5,309.96 L292,310.06 L292.5,310.15 L293,310.24 L293.5,310.33 L294,310.42 L294.5,310.51 L295,310.59 L295.5,310.68 L296,310.76 L296.5,310.84 L297,310.91 L297.5,310.99 L298,311.06 L298.5,311.13 L299,311.19 L299.5,311.26 L300,311.32 L300.5,311.38 L301,311.44 L301.5,311.49 L302,311.55 L302.5,311.6 L303,311.65 L303.5,311.7 L304,311.75 L304.5,311.8 L305,311.84 L305.5,311.89 L306,311.93 L306.5,311.97 L307,312.01 L307.5,312.05 L308,312.08 L308.5,312.11 L309,312.13 L309.5,312.15 L309.8,312.17" fill="none" stroke="#111" stroke-width="1.2" stroke-linejoin="round"/>
<line x1="123.8" y1="292.3" x2="123.8" y2="239" stroke="#000" stroke-width="1.7"/>
<polyline points="120.9,241.8 123.8,237.8 126.7,241.8" fill="none" stroke="#000" stroke-width="1.5"/>
<rect x="274.6" y="182.9" width="43.6" height="46.0" fill="#fff" stroke="#999" stroke-width="1.1"/>
<line x1="275.2" y1="186.5" x2="292.2" y2="186.5" stroke="#111" stroke-width="1.1"/>
<text x="294" y="188.8" font-size="6" font-family='"Liberation Sans", sans-serif' fill="#111" stroke="#111" stroke-width="0.16" font-weight="bold" textLength="18.2" lengthAdjust="spacingAndGlyphs">50uM</text>
<line x1="275.2" y1="194.3" x2="292.2" y2="194.3" stroke="#ff1010" stroke-width="1.1"/>
<text x="294" y="196.6" font-size="6" font-family='"Liberation Sans", sans-serif' fill="#111" stroke="#111" stroke-width="0.16" font-weight="bold" textLength="18.2" lengthAdjust="spacingAndGlyphs">25uM</text>
<line x1="275.2" y1="202.1" x2="292.2" y2="202.1" stroke="#1010ff" stroke-width="1.1"/>
<text x="294" y="204.4" font-size="6" font-family='"Liberation Sans", sans-serif' fill="#111" stroke="#111" stroke-width="0.16" font-weight="bold" textLength="23.3" lengthAdjust="spacingAndGlyphs">12.5uM</text>
<line x1="275.2" y1="209.9" x2="292.2" y2="209.9" stroke="#1f9494" stroke-width="1.1"/>
<text x="294" y="212.2" font-size="6" font-family='"Liberation Sans", sans-serif' fill="#111" stroke="#111" stroke-width="0.16" font-weight="bold" textLength="23.3" lengthAdjust="spacingAndGlyphs">6.25uM</text>
<line x1="275.2" y1="217.7" x2="292.2" y2="217.7" stroke="#ff22ff" stroke-width="1.1"/>
<text x="294" y="220" font-size="6" font-family='"Liberation Sans", sans-serif' fill="#111" stroke="#111" stroke-width="0.16" font-weight="bold" textLength="23.3" lengthAdjust="spacingAndGlyphs">3.13uM</text>
<line x1="275.2" y1="225.5" x2="292.2" y2="225.5" stroke="#8f8f2a" stroke-width="1.1"/>
<text x="294" y="227.8" font-size="6" font-family='"Liberation Sans", sans-serif' fill="#111" stroke="#111" stroke-width="0.16" font-weight="bold" textLength="23.3" lengthAdjust="spacingAndGlyphs">1.53uM</text>
<line x1="105.2" y1="366.05" x2="105.2" y2="519.6" stroke="#2a2a2a" stroke-width="1"/>
<line x1="104.7" y1="519.1" x2="313.1" y2="519.1" stroke="#2a2a2a" stroke-width="1"/>
<line x1="102.2" y1="503.3" x2="105.2" y2="503.3" stroke="#2a2a2a" stroke-width="1"/>
<text x="100.4" y="505.7" font-size="6.8" font-family='"Liberation Sans", sans-serif' fill="#111" stroke="#111" stroke-width="0.35" text-anchor="end">0</text>
<line x1="102.2" y1="457.55" x2="105.2" y2="457.55" stroke="#2a2a2a" stroke-width="1"/>
<text x="100.4" y="459.95" font-size="6.8" font-family='"Liberation Sans", sans-serif' fill="#111" stroke="#111" stroke-width="0.35" text-anchor="end">300</text>
<line x1="102.2" y1="411.8" x2="105.2" y2="411.8" stroke="#2a2a2a" stroke-width="1"/>
<text x="100.4" y="414.2" font-size="6.8" font-family='"Liberation Sans", sans-serif' fill="#111" stroke="#111" stroke-width="0.35" text-anchor="end">600</text>
<line x1="102.2" y1="366.05" x2="105.2" y2="366.05" stroke="#2a2a2a" stroke-width="1"/>
<text x="100.4" y="368.45" font-size="6.8" font-family='"Liberation Sans", sans-serif' fill="#111" stroke="#111" stroke-width="0.35" text-anchor="end">900</text>
<line x1="103.7" y1="480.43" x2="105.2" y2="480.43" stroke="#2a2a2a" stroke-width="1"/>
<line x1="103.7" y1="434.68" x2="105.2" y2="434.68" stroke="#2a2a2a" stroke-width="1"/>
<line x1="103.7" y1="388.93" x2="105.2" y2="388.93" stroke="#2a2a2a" stroke-width="1"/>
<line x1="105.2" y1="519.1" x2="105.2" y2="521.5" stroke="#2a2a2a" stroke-width="1"/>
<text x="105.2" y="529.6" font-size="6.8" font-family='"Liberation Sans", sans-serif' fill="#111" stroke="#111" stroke-width="0.35" text-anchor="middle">0</text>
<line x1="143" y1="519.1" x2="143" y2="521.5" stroke="#2a2a2a" stroke-width="1"/>
<text x="143" y="529.6" font-size="6.8" font-family='"Liberation Sans", sans-serif' fill="#111" stroke="#111" stroke-width="0.35" text-anchor="middle">10</text>
<line x1="180.8" y1="519.1" x2="180.8" y2="521.5" stroke="#2a2a2a" stroke-width="1"/>
<text x="180.8" y="529.6" font-size="6.8" font-family='"Liberation Sans", sans-serif' fill="#111" stroke="#111" stroke-width="0.35" text-anchor="middle">20</text>
<line x1="218.6" y1="519.1" x2="218.6" y2="521.5" stroke="#2a2a2a" stroke-width="1"/>
<text x="218.6" y="529.6" font-size="6.8" font-family='"Liberation Sans", sans-serif' fill="#111" stroke="#111" stroke-width="0.35" text-anchor="middle">30</text>
<line x1="256.4" y1="519.1" x2="256.4" y2="521.5" stroke="#2a2a2a" stroke-width="1"/>
<text x="256.4" y="529.6" font-size="6.8" font-family='"Liberation Sans", sans-serif' fill="#111" stroke="#111" stroke-width="0.35" text-anchor="middle">40</text>
<line x1="294.2" y1="519.1" x2="294.2" y2="521.5" stroke="#2a2a2a" stroke-width="1"/>
<text x="294.2" y="529.6" font-size="6.8" font-family='"Liberation Sans", sans-serif' fill="#111" stroke="#111" stroke-width="0.35" text-anchor="middle">50</text>
<line x1="124.1" y1="519.1" x2="124.1" y2="520.6" stroke="#2a2a2a" stroke-width="1"/>
<line x1="161.9" y1="519.1" x2="161.9" y2="520.6" stroke="#2a2a2a" stroke-width="1"/>
<line x1="199.7" y1="519.1" x2="199.7" y2="520.6" stroke="#2a2a2a" stroke-width="1"/>
<line x1="237.5" y1="519.1" x2="237.5" y2="520.6" stroke="#2a2a2a" stroke-width="1"/>
<line x1="275.3" y1="519.1" x2="275.3" y2="520.6" stroke="#2a2a2a" stroke-width="1"/>
<line x1="313.1" y1="519.1" x2="313.1" y2="520.6" stroke="#2a2a2a" stroke-width="1"/>
<text x="209.5" y="543.8" font-size="8.7" font-family='"Liberation Sans", sans-serif' fill="#111" stroke="#111" stroke-width="0.13" font-weight="bold" text-anchor="middle" textLength="77" lengthAdjust="spacingAndGlyphs">concentration (uM)</text>
<text x="76.9" y="444.2" font-size="8.4" font-family='"Liberation Sans", sans-serif' fill="#111" stroke="#111" stroke-width="0.13" font-weight="bold" text-anchor="middle" textLength="88.4" lengthAdjust="spacingAndGlyphs" transform="rotate(-90 76.9 444.2)">Fluorescent Intensity</text>
<line x1="110.7" y1="496.2" x2="293.9" y2="387.5" stroke="#f26a6a" stroke-width="0.9"/>
<rect x="109.35" y="497.15" width="3.3" height="3.3" fill="#000"/>
<rect x="115.15" y="492.35" width="3.3" height="3.3" fill="#000"/>
<rect x="126.95" y="483.35" width="3.3" height="3.3" fill="#000"/>
<rect x="150.75" y="465.75" width="3.3" height="3.3" fill="#000"/>
<rect x="197.75" y="435.95" width="3.3" height="3.3" fill="#000"/>
<rect x="292.65" y="388.65" width="3.3" height="3.3" fill="#000"/>
<text x="186" y="407.4" font-size="7.3" font-family='"Liberation Sans", sans-serif' fill="#111" stroke="#111" stroke-width="0.4" font-weight="bold" textLength="25.8" lengthAdjust="spacingAndGlyphs">502 nm</text>
</svg>
</body></html>
